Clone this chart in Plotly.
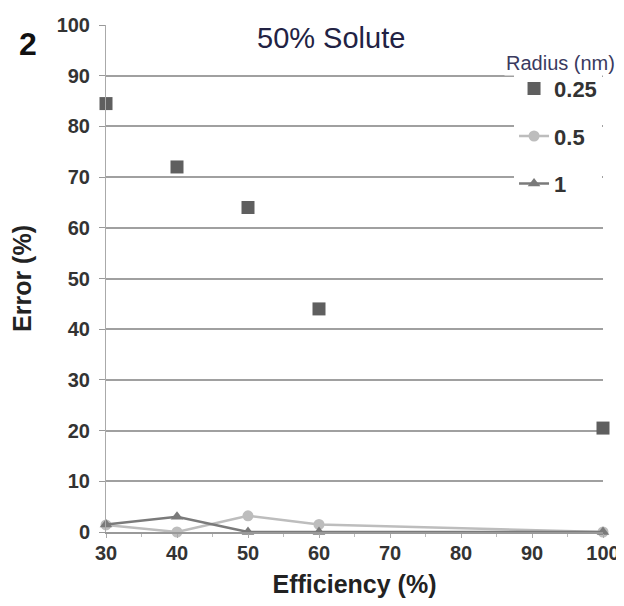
import plotly.graph_objects as go

efficiency = [30, 40, 50, 60, 100]
err_025 = [84.5, 72, 64, 44, 20.5]
err_05 = [1.4, 0, 3.2, 1.5, 0]
err_1 = [1.5, 3, 0, 0, 0]
series_names = ["0.25", "0.5", "1"]
x_ticks = [30, 40, 50, 60, 70, 80, 90, 100]

FONT = "Liberation Sans, Arial, sans-serif"

fig = go.Figure()
fig.add_trace(go.Scatter(x=efficiency, y=err_025, mode="markers", name=series_names[0],
                         legendgroup="a", cliponaxis=False,
                         marker=dict(symbol="square", size=13, color="#5f5f5f")))
fig.add_trace(go.Scatter(x=efficiency, y=err_05, mode="lines+markers", name=series_names[1],
                         legendgroup="b", cliponaxis=False,
                         line=dict(color="#bdbdbd", width=2.5),
                         marker=dict(symbol="circle", size=11, color="#bdbdbd")))
fig.add_trace(go.Scatter(x=efficiency, y=err_1, mode="lines+markers", name=series_names[2],
                         legendgroup="c", cliponaxis=False,
                         line=dict(color="#7a7a7a", width=2.5),
                         marker=dict(symbol="triangle-up", size=11, color="#7a7a7a")))

# page body has an 8px margin, so the figure is 8px smaller and margins shifted
fig.update_layout(
    width=616, height=598,
    margin=dict(l=98, r=21, t=17, b=74),
    paper_bgcolor="white", plot_bgcolor="white",
    font=dict(family=FONT, color="#222"),
    legend=dict(
        x=0.821, y=0.916, xanchor="left", yanchor="top",
        bgcolor="white",
        font=dict(size=22, color="#333", family=FONT, weight="bold"),
        tracegroupgap=16,
        traceorder="grouped",
        itemwidth=30,
    ),
    annotations=[
        dict(text="50% Solute", x=0.453, y=0.9736, xref="paper", yref="paper",
             xanchor="center", yanchor="middle", showarrow=False,
             font=dict(size=29, color="#222244", family=FONT)),
        dict(text="<b>2</b>", x=-0.157, y=0.962, xref="paper", yref="paper",
             xanchor="center", yanchor="middle", showarrow=False,
             font=dict(size=32, color="#111", family=FONT)),
        dict(text="Radius (nm)", x=0.801, y=0.926, xref="paper", yref="paper",
             xanchor="left", yanchor="middle", showarrow=False, bgcolor="white",
             font=dict(size=20, color="#3a3a60", family=FONT)),
    ],
)

fig.update_xaxes(
    range=[30, 100], tickvals=x_ticks, automargin=False,
    showgrid=False, zeroline=False,
    showline=True, linecolor="#999", linewidth=1.5,
    ticks="outside", ticklen=4, tickcolor="#aaa", ticklabelstandoff=-2,
    minor=dict(dtick=5, ticks="outside", ticklen=3, tickcolor="#bbb"),
    tickfont=dict(size=20, color="#333", family=FONT, weight="bold"),
    title=dict(text="<b>Efficiency (%)</b>", font=dict(size=25, color="#222", family=FONT), standoff=13),
)
fig.update_yaxes(
    range=[0, 100], dtick=10, automargin=False,
    showgrid=True, gridcolor="#a0a0a0", gridwidth=1.5,
    zeroline=False, showline=True, linecolor="#aaa", linewidth=1,
    ticks="outside", ticklen=6, tickcolor="#999", ticklabelstandoff=5,
    tickfont=dict(size=20, color="#333", family=FONT, weight="bold"),
    title=dict(text="<b>Error (%)</b>", font=dict(size=25, color="#222", family=FONT), standoff=17),
)

fig.write_html("out.html")
